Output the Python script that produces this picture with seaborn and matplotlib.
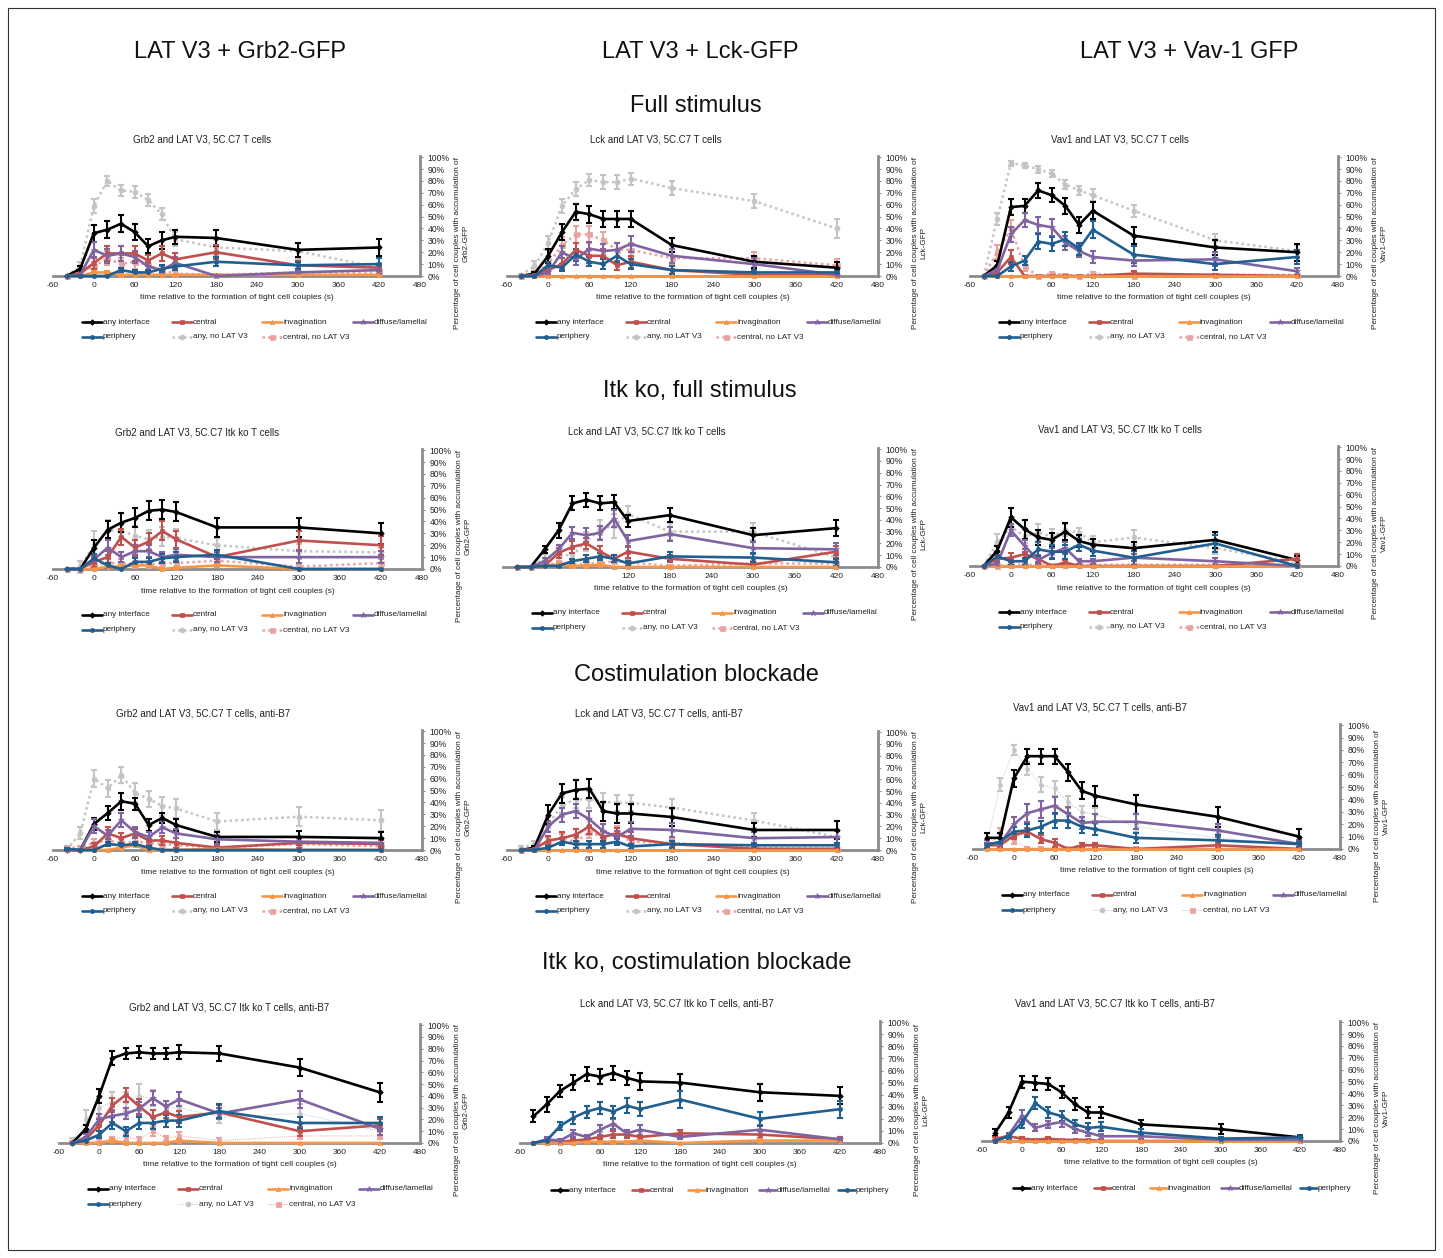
import matplotlib
matplotlib.use("Agg")
import matplotlib.pyplot as plt
from matplotlib.lines import Line2D
from matplotlib.patches import Rectangle
from matplotlib.ticker import FuncFormatter
import seaborn as sns

sns.set_theme(style="white")
plt.rcParams["font.family"] = ["Liberation Sans", "DejaVu Sans"]

W, H = 1443, 1258

# ---------------------------------------------------------------
# data (percent of cell couples)
# ---------------------------------------------------------------
times = [-40, -20, 0, 20, 40, 60, 80, 100, 120, 180, 300, 420]
xticks = [-60, 0, 60, 120, 180, 240, 300, 360, 420, 480]
yticks = [0, 10, 20, 30, 40, 50, 60, 70, 80, 90, 100]

col_headers = ["LAT V3 + Grb2-GFP", "LAT V3 + Lck-GFP", "LAT V3 + Vav-1 GFP"]
row_titles = ["Full stimulus", "Itk ko, full stimulus",
              "Costimulation blockade", "Itk ko, costimulation blockade"]

labels = {"any": "any interface", "cen": "central", "inv": "invagination",
          "dif": "diffuse/lamellal", "per": "periphery",
          "anyno": "any, no LAT V3", "cenno": "central, no LAT V3"}

# row 1 - full stimulus
grb2_full = {
    "any": [0, 6, 36, 39, 44, 37, 25, 30, 33, 32, 22, 24],
    "cen": [0, 2, 11, 19, 19, 19, 13, 19, 14, 20, 9, 7],
    "inv": [0, 0, 3, 3, 1, 1, 1, 1, 1, 1, 1, 1],
    "dif": [0, 1, 22, 17, 19, 16, 8, 5, 11, 0, 3, 5],
    "per": [0, 0, 0, 0, 5, 3, 3, 6, 8, 12, 9, 10],
    "anyno": [0, 8, 59, 80, 72, 71, 64, 52, 31, 24, 21, 7],
    "cenno": [0, 3, 8, 15, 10, 12, 9, 5, 2, 1, 3, 3],
}
grb2_full_err = {
    "any": [0, 2, 7, 7, 7, 7, 6, 7, 6, 7, 6, 7],
    "cen": [0, 1, 5, 6, 6, 6, 5, 6, 5, 6, 4, 3],
    "inv": [0, 0, 1, 1, 1, 0, 0, 0, 0, 0, 0, 0],
    "dif": [0, 1, 7, 6, 6, 5, 4, 3, 5, 0, 2, 3],
    "per": [0, 0, 0, 0, 2, 2, 2, 3, 3, 4, 3, 5],
    "anyno": [0, 4, 6, 4, 5, 5, 5, 5, 6, 6, 7, 4],
    "cenno": [0, 2, 4, 6, 5, 6, 5, 3, 2, 1, 2, 2],
}
lck_full = {
    "any": [0, 2, 17, 37, 54, 52, 48, 48, 48, 26, 12, 7],
    "cen": [0, 1, 5, 10, 22, 17, 17, 9, 12, 5, 1, 1],
    "inv": [0, 0, 0, 0, 0, 0, 0, 0, 0, 0, 0, 0],
    "dif": [0, 0, 3, 20, 14, 23, 21, 22, 27, 17, 10, 1],
    "per": [0, 0, 9, 7, 18, 12, 10, 17, 10, 5, 3, 3],
    "anyno": [1, 8, 28, 59, 73, 81, 79, 79, 82, 74, 63, 40],
    "cenno": [0, 2, 10, 26, 35, 35, 30, 22, 22, 15, 15, 9],
}
lck_full_err = {
    "any": [0, 1, 6, 7, 7, 7, 7, 7, 7, 6, 5, 5],
    "cen": [0, 1, 3, 5, 6, 6, 6, 4, 5, 3, 1, 1],
    "inv": [0, 0, 0, 0, 0, 0, 0, 0, 0, 0, 0, 0],
    "dif": [0, 0, 2, 5, 5, 6, 6, 6, 7, 6, 5, 1],
    "per": [0, 0, 3, 3, 5, 4, 4, 5, 4, 3, 2, 2],
    "anyno": [1, 5, 6, 6, 6, 5, 6, 6, 5, 6, 6, 8],
    "cenno": [0, 2, 4, 7, 7, 7, 7, 6, 6, 5, 5, 5],
}
vav1_full = {
    "any": [0, 9, 58, 59, 72, 68, 59, 43, 55, 34, 24, 20],
    "cen": [0, 3, 16, 0, 0, 0, 0, 0, 0, 2, 1, 0],
    "inv": [0, 0, 0, 0, 0, 0, 0, 0, 0, 0, 0, 0],
    "dif": [0, 5, 35, 47, 43, 41, 28, 21, 16, 13, 14, 4],
    "per": [0, 0, 8, 13, 29, 27, 31, 23, 39, 18, 10, 16],
    "anyno": [0, 48, 95, 93, 90, 86, 77, 72, 68, 55, 30, 21],
    "cenno": [0, 20, 40, 8, 0, 2, 1, 0, 2, 0, 1, 1],
}
vav1_full_err = {
    "any": [0, 4, 7, 6, 6, 6, 7, 7, 7, 7, 6, 7],
    "cen": [0, 2, 6, 0, 0, 0, 0, 0, 0, 2, 1, 0],
    "inv": [0, 0, 0, 0, 0, 0, 0, 0, 0, 0, 0, 0],
    "dif": [0, 3, 6, 6, 7, 7, 6, 5, 5, 5, 6, 3],
    "per": [0, 0, 4, 4, 6, 6, 6, 5, 7, 7, 5, 6],
    "anyno": [0, 5, 2, 2, 3, 3, 4, 4, 5, 5, 5, 5],
    "cenno": [0, 6, 7, 4, 0, 1, 1, 0, 1, 0, 1, 1],
}

# row 2 - Itk ko, full stimulus
grb2_itk = {
    "any": [0, 0, 18, 33, 39, 43, 49, 50, 48, 35, 35, 30],
    "cen": [0, 0, 6, 10, 27, 18, 23, 32, 25, 10, 24, 20],
    "inv": [0, 0, 0, 2, 2, 3, 3, 0, 1, 3, 0, 0],
    "dif": [0, 0, 8, 18, 10, 15, 15, 10, 12, 10, 10, 10],
    "per": [0, 0, 9, 3, 0, 6, 6, 9, 10, 12, 0, 0],
    "anyno": [0, 2, 20, 33, 32, 28, 25, 27, 26, 20, 15, 14],
    "cenno": [0, 0, 3, 5, 5, 4, 4, 5, 5, 7, 2, 5],
}
grb2_itk_err = {
    "any": [0, 0, 6, 7, 8, 8, 8, 8, 8, 8, 8, 9],
    "cen": [0, 0, 4, 5, 7, 6, 7, 8, 7, 5, 8, 8],
    "inv": [0, 0, 0, 1, 1, 1, 1, 0, 1, 1, 0, 0],
    "dif": [0, 0, 4, 6, 4, 5, 5, 4, 5, 4, 5, 5],
    "per": [0, 0, 4, 2, 0, 3, 3, 4, 4, 4, 0, 0],
    "anyno": [0, 5, 12, 8, 5, 8, 8, 8, 8, 6, 6, 4],
    "cenno": [0, 0, 2, 3, 3, 3, 3, 3, 3, 3, 2, 3],
}
lck_itk = {
    "any": [0, 0, 15, 31, 54, 57, 54, 55, 39, 44, 27, 33],
    "cen": [0, 0, 1, 12, 17, 20, 13, 7, 13, 7, 2, 13],
    "inv": [0, 0, 1, 2, 1, 1, 2, 0, 0, 0, 0, 0],
    "dif": [0, 0, 5, 15, 29, 27, 29, 41, 22, 28, 16, 15],
    "per": [0, 0, 1, 1, 5, 7, 9, 7, 3, 9, 8, 4],
    "anyno": [0, 0, 7, 10, 10, 22, 32, 35, 45, 30, 30, 8],
    "cenno": [0, 0, 2, 3, 2, 3, 3, 5, 4, 1, 3, 3],
}
lck_itk_err = {
    "any": [0, 0, 3, 6, 6, 6, 6, 6, 5, 6, 6, 7],
    "cen": [0, 0, 1, 4, 5, 5, 5, 3, 5, 3, 1, 5],
    "inv": [0, 0, 1, 1, 1, 1, 1, 0, 0, 0, 0, 0],
    "dif": [0, 0, 3, 4, 5, 6, 6, 7, 5, 6, 5, 5],
    "per": [0, 0, 1, 1, 2, 3, 3, 3, 2, 4, 4, 3],
    "anyno": [0, 0, 4, 6, 5, 8, 8, 10, 7, 7, 7, 5],
    "cenno": [0, 0, 1, 2, 1, 2, 2, 2, 2, 1, 2, 2],
}
vav1_itk = {
    "any": [0, 13, 41, 31, 24, 22, 29, 21, 18, 15, 22, 5],
    "cen": [0, 6, 7, 10, 6, 0, 3, 0, 0, 0, 0, 6],
    "inv": [0, 0, 0, 0, 0, 0, 0, 0, 0, 0, 0, 0],
    "dif": [0, 2, 30, 17, 5, 11, 15, 4, 4, 7, 4, 0],
    "per": [0, 8, 4, 4, 14, 12, 12, 18, 13, 7, 19, 0],
    "anyno": [0, 20, 33, 25, 28, 25, 30, 28, 20, 24, 15, 3],
    "cenno": [0, 0, 1, 1, 1, 1, 1, 1, 1, 1, 1, 1],
}
vav1_itk_err = {
    "any": [0, 4, 8, 8, 6, 6, 7, 5, 5, 5, 7, 3],
    "cen": [0, 3, 4, 4, 3, 0, 2, 0, 0, 0, 0, 4],
    "inv": [0, 0, 0, 0, 0, 0, 0, 0, 0, 0, 0, 0],
    "dif": [0, 2, 5, 5, 3, 4, 5, 2, 2, 3, 3, 0],
    "per": [0, 4, 3, 3, 6, 6, 6, 5, 5, 6, 7, 0],
    "anyno": [0, 7, 6, 6, 7, 6, 5, 4, 5, 6, 5, 3],
    "cenno": [0, 0, 1, 1, 1, 1, 1, 1, 1, 1, 1, 1],
}

# row 3 - costimulation blockade
grb2_b7 = {
    "any": [0, 0, 22, 31, 41, 39, 21, 27, 21, 11, 11, 10],
    "cen": [0, 0, 3, 14, 10, 14, 8, 8, 6, 2, 6, 5],
    "inv": [0, 0, 0, 0, 2, 4, 0, 0, 0, 1, 0, 0],
    "dif": [0, 0, 20, 12, 25, 15, 11, 19, 14, 9, 7, 6],
    "per": [1, 0, 0, 5, 4, 5, 2, 0, 0, 0, 0, 0],
    "anyno": [0, 14, 60, 52, 63, 48, 43, 37, 35, 24, 28, 25],
    "cenno": [2, 2, 6, 8, 6, 7, 6, 5, 4, 2, 5, 3],
}
grb2_b7_err = {
    "any": [0, 0, 5, 6, 7, 5, 5, 4, 5, 4, 5, 5],
    "cen": [0, 0, 3, 5, 4, 4, 4, 4, 4, 2, 4, 3],
    "inv": [0, 0, 0, 0, 1, 1, 0, 0, 0, 1, 0, 0],
    "dif": [0, 0, 6, 5, 6, 4, 4, 5, 4, 4, 3, 3],
    "per": [1, 0, 0, 2, 2, 2, 1, 0, 0, 0, 0, 0],
    "anyno": [0, 5, 7, 7, 7, 8, 7, 8, 8, 7, 8, 9],
    "cenno": [1, 1, 3, 3, 3, 3, 3, 3, 3, 2, 3, 2],
}
lck_b7 = {
    "any": [0, 2, 30, 48, 51, 52, 33, 31, 31, 28, 17, 17],
    "cen": [0, 1, 8, 10, 13, 20, 11, 14, 10, 5, 1, 1],
    "inv": [0, 0, 0, 0, 0, 0, 0, 0, 0, 0, 0, 0],
    "dif": [0, 0, 20, 30, 33, 26, 16, 11, 18, 17, 10, 11],
    "per": [0, 0, 2, 7, 5, 5, 5, 7, 3, 5, 4, 4],
    "anyno": [2, 5, 22, 38, 43, 43, 41, 40, 40, 36, 25, 11],
    "cenno": [0, 1, 7, 10, 7, 15, 11, 15, 7, 6, 2, 1],
}
lck_b7_err = {
    "any": [0, 1, 8, 8, 8, 8, 8, 8, 8, 8, 6, 8],
    "cen": [0, 1, 4, 5, 5, 6, 5, 5, 5, 3, 1, 1],
    "inv": [0, 0, 0, 0, 0, 0, 0, 0, 0, 0, 0, 0],
    "dif": [0, 0, 5, 6, 6, 7, 6, 5, 6, 6, 5, 5],
    "per": [0, 0, 1, 3, 3, 3, 3, 3, 2, 3, 2, 2],
    "anyno": [1, 3, 6, 7, 7, 7, 7, 7, 7, 7, 6, 5],
    "cenno": [0, 1, 3, 4, 3, 5, 4, 5, 3, 3, 1, 1],
}
vav1_b7 = {
    "any": [9, 9, 57, 75, 75, 75, 62, 47, 43, 36, 26, 10],
    "cen": [3, 3, 11, 14, 8, 5, 0, 3, 3, 0, 3, 0],
    "inv": [0, 0, 0, 0, 0, 0, 0, 0, 0, 0, 0, 0],
    "dif": [5, 4, 20, 29, 32, 35, 28, 21, 22, 22, 15, 4],
    "per": [3, 6, 14, 15, 18, 23, 23, 18, 16, 9, 7, 4],
    "anyno": [3, 52, 80, 65, 52, 49, 38, 30, 28, 18, 9, 3],
    "cenno": [1, 13, 7, 1, 1, 1, 1, 1, 1, 1, 1, 1],
}
vav1_b7_err = {
    "any": [4, 4, 7, 6, 6, 6, 7, 7, 8, 8, 8, 6],
    "cen": [2, 2, 3, 3, 3, 3, 0, 2, 2, 0, 2, 0],
    "inv": [0, 0, 0, 0, 0, 0, 0, 0, 0, 0, 0, 0],
    "dif": [2, 2, 6, 7, 7, 7, 6, 5, 6, 6, 5, 3],
    "per": [2, 3, 4, 5, 5, 6, 6, 5, 5, 4, 4, 2],
    "anyno": [2, 5, 4, 5, 6, 6, 5, 5, 5, 4, 3, 2],
    "cenno": [1, 4, 3, 1, 1, 1, 1, 1, 1, 1, 1, 1],
}

# row 4 - Itk ko, costimulation blockade
grb2_itk_b7 = {
    "any": [0, 12, 40, 72, 76, 77, 76, 76, 77, 76, 64, 43],
    "cen": [0, 3, 15, 32, 41, 31, 22, 26, 22, 26, 10, 15],
    "inv": [0, 0, 0, 2, 0, 0, 0, 0, 2, 0, 0, 0],
    "dif": [0, 5, 20, 23, 25, 29, 38, 31, 37, 25, 37, 12],
    "per": [0, 2, 7, 17, 10, 17, 17, 19, 19, 27, 17, 17],
    "anyno": [2, 20, 30, 35, 35, 40, 38, 30, 30, 22, 25, 10],
    "cenno": [1, 1, 2, 3, 5, 3, 10, 4, 6, 2, 6, 6],
}
grb2_itk_b7_err = {
    "any": [0, 3, 6, 6, 5, 5, 5, 5, 6, 6, 7, 8],
    "cen": [0, 2, 5, 6, 6, 6, 6, 5, 5, 6, 4, 5],
    "inv": [0, 0, 0, 1, 0, 0, 0, 0, 1, 0, 0, 0],
    "dif": [0, 3, 5, 5, 5, 6, 6, 5, 6, 5, 7, 5],
    "per": [0, 1, 3, 5, 4, 5, 5, 5, 5, 6, 5, 5],
    "anyno": [2, 8, 8, 8, 8, 10, 7, 6, 6, 5, 8, 5],
    "cenno": [1, 1, 1, 2, 3, 2, 4, 2, 3, 2, 3, 3],
}
lck_itk_b7 = {
    "any": [22, 32, 43, 50, 57, 55, 58, 54, 51, 50, 42, 39],
    "cen": [0, 1, 1, 2, 3, 5, 7, 7, 5, 8, 7, 3],
    "inv": [0, 0, 0, 0, 1, 1, 1, 1, 2, 0, 2, 2],
    "dif": [0, 3, 2, 8, 5, 11, 16, 8, 11, 5, 11, 3],
    "per": [0, 2, 14, 21, 26, 29, 26, 31, 28, 36, 20, 28],
}
lck_itk_b7_err = {
    "any": [5, 6, 5, 6, 6, 6, 6, 6, 7, 7, 7, 7],
    "cen": [0, 1, 1, 1, 2, 2, 3, 3, 2, 3, 3, 2],
    "inv": [0, 0, 0, 0, 1, 1, 1, 1, 1, 0, 1, 1],
    "dif": [0, 2, 1, 3, 2, 4, 4, 3, 4, 2, 4, 2],
    "per": [0, 1, 3, 5, 5, 5, 5, 6, 6, 7, 6, 7],
}
vav1_itk_b7 = {
    "any": [7, 24, 50, 49, 48, 41, 31, 24, 24, 14, 10, 3],
    "cen": [2, 4, 2, 1, 2, 1, 1, 1, 0, 0, 0, 0],
    "inv": [0, 0, 0, 0, 0, 0, 0, 0, 0, 0, 0, 0],
    "dif": [0, 5, 21, 11, 14, 16, 10, 7, 4, 4, 1, 1],
    "per": [0, 4, 15, 32, 24, 21, 14, 11, 12, 7, 2, 3],
}
vav1_itk_b7_err = {
    "any": [3, 5, 5, 6, 5, 5, 5, 5, 5, 4, 4, 1],
    "cen": [1, 2, 1, 0, 1, 0, 0, 0, 0, 0, 0, 0],
    "inv": [0, 0, 0, 0, 0, 0, 0, 0, 0, 0, 0, 0],
    "dif": [0, 2, 5, 3, 3, 4, 3, 3, 2, 2, 1, 1],
    "per": [0, 2, 4, 5, 5, 4, 4, 4, 4, 3, 1, 2],
}

panel_titles = [
    "Grb2 and LAT V3, 5C.C7 T cells", "Lck and LAT V3, 5C.C7 T cells",
    "Vav1 and LAT V3, 5C.C7 T cells",
    "Grb2 and LAT V3, 5C.C7 Itk ko T cells", "Lck and LAT V3, 5C.C7 Itk ko T cells",
    "Vav1 and LAT V3, 5C.C7 Itk ko T cells",
    "Grb2 and LAT V3, 5C.C7 T cells, anti-B7", "Lck and LAT V3, 5C.C7 T cells, anti-B7",
    "Vav1 and LAT V3, 5C.C7 T cells, anti-B7",
    "Grb2 and LAT V3, 5C.C7 Itk ko T cells, anti-B7",
    "Lck and LAT V3, 5C.C7 Itk ko T cells, anti-B7",
    "Vav1 and LAT V3, 5C.C7 Itk ko T cells, anti-B7",
]
gfp_names = ["Grb2-GFP", "Lck-GFP", "Vav1-GFP"]

panel_data = [
    (grb2_full, grb2_full_err), (lck_full, lck_full_err), (vav1_full, vav1_full_err),
    (grb2_itk, grb2_itk_err), (lck_itk, lck_itk_err), (vav1_itk, vav1_itk_err),
    (grb2_b7, grb2_b7_err), (lck_b7, lck_b7_err), (vav1_b7, vav1_b7_err),
    (grb2_itk_b7, grb2_itk_b7_err), (lck_itk_b7, lck_itk_b7_err),
    (vav1_itk_b7, vav1_itk_b7_err),
]

# ---------------------------------------------------------------
# layout (pixels): left, right, y of 0%, y of 100%
# ---------------------------------------------------------------
boxes = [
    (53, 420, 276, 156), (507, 878, 276, 156), (970, 1338, 276, 156),
    (53, 422, 569, 449), (503, 878, 567, 448), (970, 1338, 566, 446),
    (53, 422, 850, 730), (507, 878, 850, 731), (973, 1340, 849, 724),
    (59, 420, 1143, 1024), (520, 880, 1143, 1021), (982, 1340, 1141, 1021),
]
title_x = [202, 656, 1120, 197, 647, 1120, 203, 659, 1100, 229, 677, 1115]
thin_dotted = {8, 9}

styles = {
    "any": dict(color="#000000", marker="D", ms=2.8, ls="-", lw=1.9),
    "cen": dict(color="#C0504D", marker="s", ms=3.0, ls="-", lw=1.9),
    "inv": dict(color="#F79646", marker="^", ms=3.2, ls="-", lw=1.9),
    "dif": dict(color="#8064A2", marker="*", ms=4.2, ls="-", lw=1.9),
    "per": dict(color="#215F91", marker="o", ms=3.0, ls="-", lw=1.9),
    "anyno": dict(color="#C4C4C4", marker="o", ms=3.6, ls=(0, (1, 1.3)), lw=1.8),
    "cenno": dict(color="#E8A3A1", marker="s", ms=3.6, ls=(0, (1, 1.3)), lw=1.8),
}
grey = "#8C8C8C"
txt_col = "#222222"


def fx(x):
    return x / W


def fy(y):
    return 1 - y / H


fig = plt.figure(figsize=(W / 100, H / 100), dpi=100)

for i, ((vals, errs), box) in enumerate(zip(panel_data, boxes)):
    l, r, y0, y1 = box
    ax = fig.add_axes([fx(l), fy(y0), (r - l) / W, (y0 - y1) / H])
    ax.set_facecolor("none")
    for name in vals:
        st = dict(styles[name])
        if i in thin_dotted and name in ("anyno", "cenno"):
            st["lw"] = 0.7
            st["ms"] = 2.8
        z = 2 if name in ("anyno", "cenno") else 3
        sns.lineplot(x=times, y=vals[name], ax=ax, color=st["color"],
                     marker=st["marker"], markersize=st["ms"],
                     markeredgewidth=0.5, markeredgecolor=st["color"],
                     linestyle=st["ls"], linewidth=st["lw"],
                     legend=False, clip_on=False, zorder=z)
        xs = [t for t, e in zip(times, errs[name]) if e > 0]
        ys = [v for v, e in zip(vals[name], errs[name]) if e > 0]
        es = [e for e in errs[name] if e > 0]
        if xs:
            ax.errorbar(xs, ys, yerr=es, fmt="none", ecolor=st["color"],
                        elinewidth=1.5, capsize=2.2, capthick=1.5,
                        zorder=z - 0.5, clip_on=False)

    ax.set_xlim(-60, 480)
    ax.set_ylim(0, 101)
    ax.set_xlabel("")
    ax.set_ylabel("")
    for s in ("left", "top"):
        ax.spines[s].set_visible(False)
    for s in ("bottom", "right"):
        ax.spines[s].set_color(grey)
        ax.spines[s].set_linewidth(2.0)
        ax.spines[s].set_zorder(1)
    ax.yaxis.tick_right()
    ax.set_yticks(yticks)
    ax.yaxis.set_major_formatter(FuncFormatter(lambda v, p: f"{v:.0f}%"))
    ax.tick_params(axis="y", right=True, length=2.5, width=0.8, color=grey,
                   pad=3, labelsize=6.2, labelcolor=txt_col)
    ax.set_xticks(xticks)
    xlabs = [str(t) for t in xticks]
    if i == 4:
        xlabs = ["", "", ""] + xlabs[3:]
    ax.set_xticklabels(xlabs)
    ax.tick_params(axis="x", bottom=False, length=0, pad=4, labelsize=6.0,
                   labelcolor=txt_col)
    ax.grid(False)

    # texts
    fig.text(fx(title_x[i]), fy(y1 - 17), panel_titles[i], ha="center",
             va="center", fontsize=7, color=txt_col)
    fig.text(fx((l + r) / 2), fy(y0 + 22),
             "time relative to the formation of tight cell couples (s)",
             ha="center", va="center", fontsize=6.0, color=txt_col)
    fig.text(fx(r + 42), fy(y0 - 33),
             "Percentage of cell couples with accumulation of\n" + gfp_names[i % 3],
             rotation=90, ha="center", va="center", multialignment="center",
             fontsize=5.9, color=txt_col, linespacing=1.25)

    # legend, drawn by hand to get the fixed column grid
    if "anyno" in vals:
        items = [("any", 29, 46), ("cen", 119, 46), ("inv", 209, 46),
                 ("dif", 300, 46), ("per", 29, 61), ("anyno", 119, 61),
                 ("cenno", 209, 61)]
        hl = 20
    else:
        items = [("any", 31, 47), ("cen", 112, 47), ("inv", 168, 47),
                 ("dif", 239, 47), ("per", 318, 47)]
        hl = 17
    for name, dx, dy in items:
        st = dict(styles[name])
        lw = st["lw"]
        if i in thin_dotted and name in ("anyno", "cenno"):
            lw = 0.7
        xa, xb, yy = l + dx, l + dx + hl, y0 + dy
        fig.add_artist(Line2D([fx(xa), fx(xb)], [fy(yy), fy(yy)],
                              transform=fig.transFigure, color=st["color"],
                              linestyle=st["ls"], linewidth=lw))
        fig.add_artist(Line2D([fx((xa + xb) / 2)], [fy(yy)],
                              transform=fig.transFigure, color=st["color"],
                              marker=st["marker"], markersize=st["ms"],
                              markeredgewidth=0.5, linestyle="none"))
        fig.text(fx(xb + 1), fy(yy), labels[name], ha="left", va="center",
                 fontsize=5.9, color=txt_col)

# headers
for x, txt in zip([240, 700, 1189], col_headers):
    fig.text(fx(x), fy(52), txt, ha="center", va="center", fontsize=17,
             color="#111111")
for (x, y), txt in zip([(696, 106), (700, 391), (696, 675), (697, 963)],
                       row_titles):
    fig.text(fx(x), fy(y), txt, ha="center", va="center", fontsize=17,
             color="#111111")

fig.add_artist(Rectangle((fx(8), fy(1250)), (1435 - 8) / W, (1250 - 8) / H,
                         transform=fig.transFigure, fill=False,
                         edgecolor="#333333", linewidth=0.8))

fig.savefig("out.png", dpi=100)
